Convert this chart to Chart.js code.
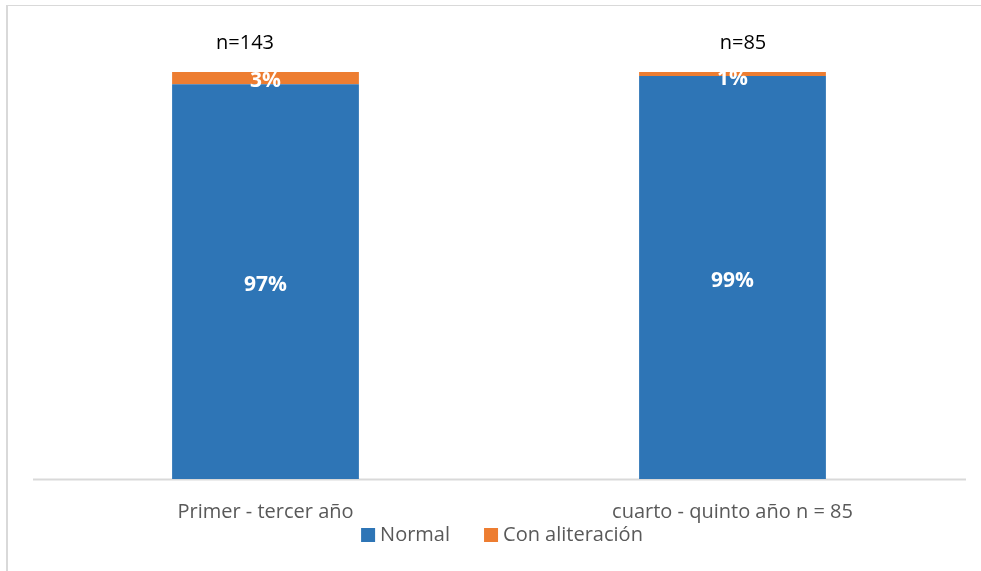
<!DOCTYPE html>
<html>
<head>
<meta charset="utf-8">
<script src="https://cdn.jsdelivr.net/npm/chart.js@4.4.1/dist/chart.umd.min.js"></script>
<style>
  html, body { margin: 0; padding: 0; background: #ffffff; overflow: hidden; }
  #wrap { position: relative; width: 981px; height: 571px; overflow: hidden; background: #ffffff; }
  canvas { position: absolute; left: 0; top: 0; }
</style>
</head>
<body>
<div id="wrap">
  <canvas id="chart" width="981" height="571"></canvas>
</div>
<script>
// Groups and their sample sizes
const categories = ['Primer - tercer año', 'cuarto - quinto año n = 85'];
const sampleSizes = ['n=143', 'n=85'];

// Share of each group (percent)
const normalPct = [97, 99];
const alteredPct = [3, 1];

const seriesNames = ['Normal', 'Con aliteración'];
const seriesColors = ['#2E75B6', '#ED7D31'];

const FONT = '"Open Sans", "Liberation Sans", sans-serif';
const GREY_TEXT = '#595959';

// Horizontal nudge of the sample-size captions above each bar
const sizeCaptionShift = [-20.5, 10.5];

// White backdrop, outer frame edges (left and top) and the baseline rule
const framePlugin = {
  id: 'frame',
  beforeDraw(chart) {
    const { ctx } = chart;
    ctx.save();
    ctx.fillStyle = '#ffffff';
    ctx.fillRect(0, 0, chart.width, chart.height);
    ctx.restore();
  },
  beforeDatasetsDraw(chart) {
    const { ctx, chartArea } = chart;
    ctx.save();
    ctx.fillStyle = '#d9d9d9';
    ctx.fillRect(6, 5, 2, chart.height - 5);
    ctx.fillRect(6, 5, chart.width - 6, 1);
    ctx.fillRect(chartArea.left + 1, chartArea.bottom - 0.5, chartArea.right - chartArea.left - 1, 2);
    ctx.restore();
  }
};

// Percent labels inside each segment
const segmentLabelPlugin = {
  id: 'segmentLabels',
  afterDatasetsDraw(chart) {
    const { ctx } = chart;
    ctx.save();
    ctx.fillStyle = '#ffffff';
    ctx.font = 'bold 21px ' + FONT;
    ctx.textAlign = 'center';
    ctx.textBaseline = 'middle';
    chart.data.datasets.forEach((ds, di) => {
      const meta = chart.getDatasetMeta(di);
      meta.data.forEach((bar, i) => {
        const v = ds.data[i];
        const top = Math.min(bar.y, bar.base);
        const y = Math.max((bar.y + bar.base) / 2 + 3, top + 7.5);
        ctx.fillText(v + '%', bar.x, y);
      });
    });
    ctx.restore();
  }
};

// Sample-size captions above the bars
const sizeCaptionPlugin = {
  id: 'sizeCaptions',
  afterDraw(chart) {
    const { ctx } = chart;
    const xScale = chart.scales.x;
    ctx.save();
    ctx.fillStyle = '#000000';
    ctx.font = '20px ' + FONT;
    ctx.textAlign = 'center';
    ctx.textBaseline = 'alphabetic';
    sampleSizes.forEach((txt, i) => {
      const x = xScale.getPixelForValue(i) + sizeCaptionShift[i];
      ctx.fillText(txt, x, 49);
    });
    ctx.restore();
  }
};

// Legend row under the category labels
const legendRowPlugin = {
  id: 'legendRow',
  afterDraw(chart) {
    const { ctx, chartArea } = chart;
    const box = 14, gap = 5, spacing = 34;
    ctx.save();
    ctx.font = '20px ' + FONT;
    const widths = chart.data.datasets.map(d => ctx.measureText(d.label).width);
    let total = 0;
    widths.forEach((w, i) => { total += box + gap + w + (i ? spacing : 0); });
    let x = (chartArea.left + chartArea.right) / 2 - total / 2 + 3;
    const midY = 535;
    chart.data.datasets.forEach((d, i) => {
      ctx.fillStyle = d.backgroundColor;
      ctx.fillRect(x, midY - box / 2, box, box);
      x += box + gap;
      ctx.fillStyle = GREY_TEXT;
      ctx.textAlign = 'left';
      ctx.textBaseline = 'middle';
      ctx.fillText(d.label, x, midY);
      x += widths[i] + spacing;
    });
    ctx.restore();
  }
};

new Chart(document.getElementById('chart'), {
  type: 'bar',
  data: {
    labels: categories,
    datasets: [
      { label: seriesNames[0], data: normalPct, backgroundColor: seriesColors[0] },
      { label: seriesNames[1], data: alteredPct, backgroundColor: seriesColors[1] }
    ]
  },
  options: {
    responsive: false,
    animation: false,
    devicePixelRatio: 1,
    barPercentage: 0.4,
    categoryPercentage: 1.0,
    layout: { padding: { left: 32, right: 15, top: 72, bottom: 26 } },
    plugins: {
      legend: { display: false },
      tooltip: { enabled: false }
    },
    scales: {
      x: {
        stacked: true,
        grid: { display: false, drawTicks: false },
        border: { display: false },
        ticks: {
          color: GREY_TEXT,
          font: { family: FONT, size: 20 },
          padding: 21,
          maxRotation: 0
        }
      },
      y: {
        stacked: true,
        display: false,
        grid: { display: false },
        border: { display: false },
        min: 0,
        max: 100
      }
    }
  },
  plugins: [framePlugin, segmentLabelPlugin, sizeCaptionPlugin, legendRowPlugin]
});
</script>
</body>
</html>
